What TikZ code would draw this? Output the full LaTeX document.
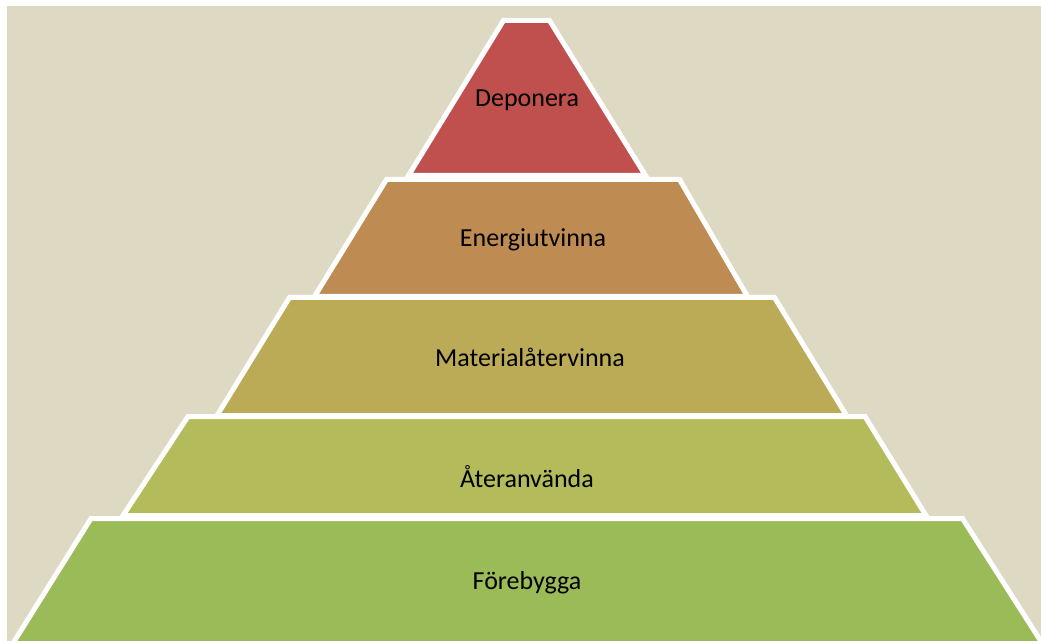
\documentclass[tikz,border=0pt]{standalone}
\usepackage{fontspec}
\setmainfont{Carlito}
\definecolor{bgbeige}{HTML}{DDD9C3}
\definecolor{cDep}{HTML}{C0504D}
\definecolor{cEne}{HTML}{BE8C52}
\definecolor{cMat}{HTML}{BCAB56}
\definecolor{cAte}{HTML}{B4BB5A}
\definecolor{cFor}{HTML}{9BBB59}
\tikzset{
  layer/.style={draw=white, line width=3.75pt, line join=miter},
  lbl/.style={font=\fontsize{19.5}{23}\selectfont, text=black, inner sep=0pt}
}
\begin{document}
\begin{tikzpicture}[x=0.75pt,y=-0.75pt]
\useasboundingbox (0,0) rectangle (1041,641);
\fill[white] (0,0) rectangle (1041,641);
\fill[bgbeige] (7,6) rectangle (1041,641);
% Förebygga
\path[layer, fill=cFor] (91,518.5) -- (962.5,518.5) -- (1041+40,644+60) -- (15-40,644+60) -- cycle;
% Återanvända
\path[layer, fill=cAte] (188,416.5) -- (865,416.5) -- (926,515.5) -- (123,515.5) -- cycle;
% Materialåtervinna
\path[layer, fill=cMat] (289.5,297.5) -- (774.5,297.5) -- (846.5,415.5) -- (217,415.5) -- cycle;
% Energiutvinna
\path[layer, fill=cEne] (386.5,179.5) -- (679.5,179.5) -- (747.5,296.5) -- (314.5,296.5) -- cycle;
% Deponera
\path[layer, fill=cDep] (503.5,20.5) -- (549.5,20.5) -- (645.5,175.5) -- (408.5,175.5) -- cycle;
\clip (0,0) rectangle (1041,641);
\node[lbl] (tDep) at (527,100) {Deponera};
\node[lbl] (tEne) at (533,240) {Energiutvinna};
\node[lbl] (tMat) at (530,357) {Materialåtervinna};
\node[lbl] (tAte) at (527,477) {Återanvända};
\node[lbl] (tFor) at (527,583) {Förebygga};
\end{tikzpicture}
\end{document}
